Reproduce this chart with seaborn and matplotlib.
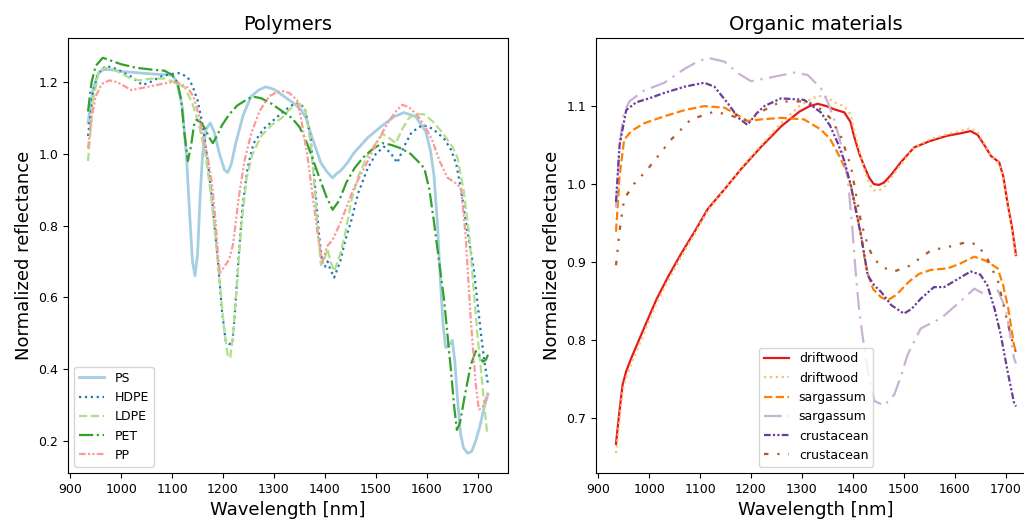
import numpy as np
import matplotlib
matplotlib.use("Agg")
import matplotlib.pyplot as plt
import seaborn as sns

# ---- Polymers ----
ps_wl = [935, 945, 955, 965, 980, 1000, 1042, 1070, 1100, 1110, 1120, 1128, 1135, 1140, 1145,
         1150, 1155, 1160, 1167, 1175, 1183, 1193, 1203, 1209, 1216, 1225, 1240, 1255, 1270, 1284,
         1300, 1320, 1340, 1353, 1363, 1373, 1392, 1404, 1415, 1423, 1431, 1444, 1457, 1484, 1510,
         1536, 1555, 1578, 1598, 1607, 1614, 1621, 1627, 1632, 1637, 1643, 1650, 1655, 1660, 1666,
         1672, 1680, 1688, 1696, 1704, 1712, 1720]
ps_val = [1.086, 1.18, 1.225, 1.235, 1.235, 1.23, 1.225, 1.222, 1.22, 1.2, 1.13, 1.0, 0.82, 0.7, 0.66,
          0.72, 0.88, 1.0, 1.07, 1.086, 1.06, 1.0, 0.955, 0.948, 0.97, 1.03, 1.11, 1.16, 1.178, 1.187,
          1.18, 1.16, 1.14, 1.123, 1.1, 1.053, 0.975, 0.95, 0.933, 0.945, 0.953, 0.975, 1.003, 1.045, 1.076,
          1.104, 1.115, 1.104, 1.062, 1.01, 0.94, 0.8, 0.635, 0.52, 0.46, 0.465, 0.48, 0.42, 0.32, 0.22,
          0.18, 0.165, 0.17, 0.2, 0.24, 0.29, 0.33]

hdpe_wl = [935, 945, 955, 970, 985, 1000, 1020, 1042, 1057, 1077, 1095, 1114, 1130, 1140, 1150,
           1160, 1170, 1180, 1190, 1198, 1205, 1212, 1218, 1223, 1230, 1238, 1248, 1260, 1280, 1300,
           1320, 1340, 1352, 1362, 1372, 1380, 1388, 1395, 1400, 1405, 1410, 1418, 1430, 1440, 1451,
           1465, 1484, 1500, 1516, 1530, 1542, 1555, 1570, 1591, 1605, 1620, 1635, 1648, 1658, 1667,
           1680, 1692, 1706, 1713, 1720]
hdpe_val = [1.05, 1.17, 1.225, 1.245, 1.24, 1.23, 1.215, 1.192, 1.2, 1.215, 1.222, 1.225, 1.215, 1.19, 1.15,
            1.08, 0.98, 0.85, 0.7, 0.56, 0.48, 0.47, 0.47, 0.55, 0.7, 0.85, 0.96, 1.03, 1.07, 1.095,
            1.12, 1.14, 1.14, 1.12, 1.04, 0.92, 0.78, 0.69, 0.685, 0.7, 0.68, 0.655, 0.7, 0.76, 0.81,
            0.89, 0.96, 1.0, 1.02, 1.0, 0.975, 1.02, 1.06, 1.08, 1.075, 1.06, 1.04, 1.01, 0.97, 0.9,
            0.78, 0.68, 0.5, 0.42, 0.357]

ldpe_wl = [935, 945, 957, 970, 985, 1000, 1015, 1035, 1060, 1085, 1105, 1125, 1140, 1153, 1165,
           1175, 1185, 1195, 1203, 1209, 1214, 1220, 1228, 1236, 1246, 1258, 1275, 1295, 1315, 1335,
           1350, 1362, 1372, 1380, 1387, 1392, 1398, 1405, 1411, 1418, 1430, 1440, 1452, 1466, 1485,
           1500, 1513, 1525, 1539, 1552, 1565, 1578, 1595, 1612, 1630, 1650, 1660, 1672, 1683, 1692,
           1699, 1706, 1712, 1718]
ldpe_val = [0.98, 1.15, 1.235, 1.24, 1.235, 1.225, 1.213, 1.205, 1.21, 1.21, 1.2, 1.185, 1.14, 1.08, 1.0,
            0.9, 0.77, 0.62, 0.5, 0.44, 0.43, 0.5, 0.65, 0.8, 0.93, 1.0, 1.05, 1.08, 1.1, 1.13,
            1.14, 1.12, 1.03, 0.9, 0.77, 0.69, 0.7, 0.735, 0.7, 0.672, 0.72, 0.78, 0.87, 0.94, 1.0,
            1.03, 1.056, 1.045, 1.03, 1.07, 1.1, 1.112, 1.11, 1.09, 1.06, 1.02, 0.99, 0.9, 0.777, 0.62,
            0.5, 0.4, 0.31, 0.225]

pet_wl = [935, 942, 950, 964, 980, 1000, 1030, 1060, 1085, 1100, 1110, 1118, 1124, 1131, 1137,
          1143, 1148, 1155, 1165, 1173, 1180, 1188, 1198, 1212, 1228, 1245, 1258, 1275, 1295, 1315,
          1335, 1350, 1362, 1375, 1390, 1403, 1415, 1428, 1442, 1458, 1475, 1495, 1513, 1530, 1550,
          1568, 1582, 1595, 1605, 1614, 1624, 1634, 1647, 1654, 1659, 1665, 1675, 1686, 1696, 1704,
          1710, 1716, 1720]
pet_val = [1.118, 1.2, 1.245, 1.268, 1.26, 1.25, 1.24, 1.235, 1.232, 1.22, 1.2, 1.15, 1.06, 0.98, 1.02,
           1.08, 1.095, 1.09, 1.07, 1.045, 1.03, 1.05, 1.08, 1.11, 1.135, 1.15, 1.16, 1.155, 1.14, 1.12,
           1.1, 1.075, 1.04, 0.99, 0.93, 0.88, 0.844, 0.87, 0.92, 0.96, 0.99, 1.015, 1.03, 1.025, 1.015,
           1.0, 0.98, 0.96, 0.9, 0.81, 0.7, 0.59, 0.4, 0.29, 0.23, 0.25, 0.33, 0.41, 0.45, 0.435,
           0.42, 0.426, 0.44]

pp_wl = [935, 942, 950, 962, 977, 992, 1005, 1020, 1035, 1055, 1080, 1100, 1115, 1130, 1142,
         1152, 1162, 1170, 1178, 1185, 1190, 1194, 1200, 1212, 1220, 1230, 1242, 1256, 1272, 1290,
         1305, 1317, 1330, 1345, 1353, 1365, 1373, 1386, 1395, 1404, 1415, 1431, 1457, 1484, 1505,
         1525, 1540, 1552, 1565, 1580, 1595, 1610, 1625, 1641, 1655, 1667, 1676, 1686, 1696, 1702,
         1708, 1714, 1720]
pp_val = [1.015, 1.1, 1.16, 1.195, 1.205, 1.2, 1.19, 1.178, 1.182, 1.188, 1.195, 1.2, 1.197, 1.185, 1.16,
          1.11, 1.04, 0.99, 0.92, 0.82, 0.72, 0.668, 0.68, 0.705, 0.75, 0.87, 0.98, 1.06, 1.12, 1.16,
          1.172, 1.175, 1.17, 1.15, 1.1, 1.0, 0.914, 0.774, 0.696, 0.742, 0.76, 0.81, 0.905, 0.98, 1.04,
          1.09, 1.12, 1.137, 1.13, 1.11, 1.08, 1.04, 0.98, 0.933, 0.92, 0.905, 0.774, 0.54, 0.357, 0.287,
          0.29, 0.31, 0.334]

# ---- Organic materials ----
drift_wl = [935, 942, 948, 955, 965, 980, 997, 1015, 1037, 1063, 1090, 1115, 1150, 1180, 1220,
            1259, 1295, 1315, 1331, 1348, 1363, 1383, 1395, 1402, 1412, 1422, 1432, 1441, 1451, 1461,
            1475, 1494, 1520, 1550, 1585, 1610, 1631, 1645, 1658, 1671, 1687, 1695, 1703, 1712, 1720]
drift1_val = [0.667, 0.71, 0.743, 0.76, 0.777, 0.80, 0.826, 0.853, 0.881, 0.911, 0.94, 0.968, 0.995, 1.019, 1.048,
              1.074, 1.093, 1.1, 1.103, 1.1, 1.096, 1.092, 1.08, 1.062, 1.04, 1.023, 1.008, 1.0, 0.999, 1.002,
              1.012, 1.028, 1.047, 1.055, 1.062, 1.065, 1.068, 1.063, 1.05, 1.036, 1.028, 1.01, 0.977, 0.945, 0.909]
drift2_val = [0.655, 0.70, 0.735, 0.752, 0.77, 0.793, 0.82, 0.848, 0.876, 0.907, 0.937, 0.966, 0.995, 1.02, 1.05,
              1.078, 1.1, 1.108, 1.113, 1.112, 1.105, 1.1, 1.09, 1.07, 1.045, 1.02, 1.0, 0.992, 0.992, 0.996,
              1.008, 1.025, 1.047, 1.057, 1.064, 1.068, 1.072, 1.066, 1.052, 1.036, 1.027, 1.008, 0.975, 0.942, 0.905]

sarg1_wl = [935, 942, 951, 965, 990, 1030, 1070, 1108, 1148, 1170, 1193, 1220, 1259, 1304, 1337,
            1355, 1370, 1385, 1396, 1406, 1416, 1423, 1429, 1440, 1455, 1468, 1485, 1510, 1530, 1553,
            1586, 1610, 1638, 1660, 1684, 1695, 1705, 1716, 1720]
sarg1_val = [0.939, 1.01, 1.057, 1.068, 1.078, 1.087, 1.095, 1.1, 1.098, 1.09, 1.081, 1.083, 1.085, 1.083, 1.07,
             1.058, 1.04, 1.02, 0.998, 0.968, 0.934, 0.905, 0.885, 0.865, 0.855, 0.851, 0.858, 0.875, 0.885, 0.89,
             0.892, 0.898, 0.907, 0.902, 0.892, 0.87, 0.84, 0.794, 0.785]

sarg2_wl = [935, 942, 950, 961, 990, 1030, 1070, 1095, 1115, 1148, 1175, 1200, 1240, 1285, 1311,
            1337, 1350, 1363, 1377, 1390, 1398, 1405, 1412, 1422, 1432, 1442, 1461, 1481, 1495, 1507,
            1533, 1573, 1599, 1620, 1638, 1655, 1664, 1684, 1700, 1716, 1720]
sarg2_val = [0.97, 1.05, 1.09, 1.106, 1.12, 1.13, 1.148, 1.157, 1.162, 1.157, 1.142, 1.132, 1.137, 1.143, 1.14,
             1.123, 1.106, 1.083, 1.05, 1.006, 0.95, 0.89, 0.84, 0.79, 0.75, 0.722, 0.716, 0.73, 0.755, 0.781,
             0.815, 0.828, 0.843, 0.855, 0.866, 0.86, 0.858, 0.864, 0.84, 0.777, 0.77]

crust1_wl = [935, 942, 955, 975, 1000, 1030, 1070, 1108, 1128, 1154, 1175, 1193, 1210, 1226, 1259,
             1304, 1337, 1355, 1370, 1383, 1396, 1406, 1416, 1429, 1442, 1455, 1475, 1500, 1515, 1533,
             1559, 1579, 1605, 1631, 1650, 1664, 1678, 1690, 1705, 1716, 1720]
crust1_val = [0.977, 1.05, 1.095, 1.105, 1.11, 1.117, 1.125, 1.13, 1.125, 1.104, 1.085, 1.076, 1.09, 1.1, 1.11,
              1.108, 1.092, 1.075, 1.053, 1.03, 0.998, 0.965, 0.934, 0.883, 0.87, 0.862, 0.845, 0.834, 0.84, 0.853,
              0.868, 0.868, 0.878, 0.888, 0.884, 0.87, 0.84, 0.807, 0.755, 0.72, 0.715]

crust2_wl = [935, 942, 951, 970, 997, 1020, 1043, 1082, 1128, 1160, 1193, 1226, 1259, 1311, 1337,
             1355, 1376, 1396, 1416, 1430, 1441, 1460, 1481, 1510, 1553, 1590, 1625, 1645, 1664, 1685,
             1703, 1716, 1720]
crust2_val = [0.896, 0.94, 0.981, 1.0, 1.019, 1.038, 1.057, 1.083, 1.093, 1.088, 1.081, 1.095, 1.106, 1.106, 1.096,
              1.085, 1.062, 1.023, 0.951, 0.92, 0.904, 0.893, 0.888, 0.895, 0.915, 0.92, 0.926, 0.922, 0.904, 0.875,
              0.824, 0.79, 0.785]

pal = sns.color_palette("Paired", 12)
dashdotdot = (0, (3, 1, 1, 1, 1, 1))

polymers = [
    ("PS", ps_wl, ps_val, pal[0], "-", 2.0),
    ("HDPE", hdpe_wl, hdpe_val, pal[1], ":", 1.6),
    ("LDPE", ldpe_wl, ldpe_val, pal[2], "--", 1.6),
    ("PET", pet_wl, pet_val, pal[3], "-.", 1.6),
    ("PP", pp_wl, pp_val, pal[4], dashdotdot, 1.6),
]
organics = [
    ("driftwood", drift_wl, drift1_val, pal[5], "-", 1.6),
    ("driftwood", drift_wl, drift2_val, pal[6], ":", 1.6),
    ("sargassum", sarg1_wl, sarg1_val, pal[7], "--", 1.6),
    ("sargassum", sarg2_wl, sarg2_val, pal[8], (0, (8, 3, 1, 3)), 1.6),
    ("crustacean", crust1_wl, crust1_val, pal[9], dashdotdot, 1.6),
    ("crustacean", crust2_wl, crust2_val, pal[11], (0, (2, 4, 1, 4, 1, 4)), 1.6),
]

fig = plt.figure(figsize=(10.24, 5.19), dpi=100)
ax1 = fig.add_axes([68 / 1024, 46 / 519, 440 / 1024, 435 / 519])
ax2 = fig.add_axes([596 / 1024, 46 / 519, 440 / 1024, 435 / 519])

for ax, series, title, loc in [(ax1, polymers, "Polymers", "lower left"),
                               (ax2, organics, "Organic materials", "lower center")]:
    for name, wl, val, col, ls, lw in series:
        sns.lineplot(x=np.array(wl), y=np.array(val), ax=ax, color=col,
                     linestyle=ls, linewidth=lw, label=name)
    ax.set_title(title, fontsize=14)
    ax.set_xlabel("Wavelength [nm]", fontsize=13)
    ax.set_ylabel("Normalized reflectance", fontsize=13)
    ax.set_xticks([900, 1000, 1100, 1200, 1300, 1400, 1500, 1600, 1700])
    ax.tick_params(labelsize=9)
    ax.legend(loc=loc, fontsize=9)

ax1.set_yticks([0.2, 0.4, 0.6, 0.8, 1.0, 1.2])
ax2.set_yticks([0.7, 0.8, 0.9, 1.0, 1.1])

fig.savefig("out.png", dpi=100)
